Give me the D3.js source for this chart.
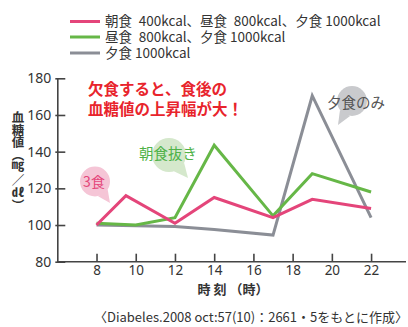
<!DOCTYPE html>
<html><head><meta charset="utf-8">
<script src="https://cdn.jsdelivr.net/npm/d3@7"></script>
<style>
body{margin:0;background:#fff;}
svg{display:block;font-family:"Noto Sans CJK JP","Noto Sans",sans-serif;}
</style></head>
<body><svg id="c" width="408" height="327"></svg>
<script>
const xTicks = [8,10,12,14,16,18,20,22];
const yTicks = [80,100,120,140,160,180];
const seriesNames = ["朝食\u2002400kcal、昼食\u2002800kcal、夕食 1000kcal","昼食\u2002800kcal、夕食 1000kcal","夕食 1000kcal"];
const seriesColors = ["#e4457a","#66b747","#8b8e96"];
const threeMealsX = [8,9.5,12,14,17,19,22];
const threeMealsY = [100,116,101,115,104,114,109];
const skipBreakfastX = [8,10,12,14,17,19,22];
const skipBreakfastY = [101,100,104,143.5,105,128,118];
const dinnerOnlyX = [8,12,14,17,19,22];
const dinnerOnlyY = [100,99.2,97.5,94.5,170.5,104];
const headline = ["欠食すると、食後の","血糖値の上昇幅が大！"];
const yTitle = "血糖値（㎎／㎗）";
const xTitle = "時 刻 （時）";
const source = "〈Diabeles.2008 oct:57(10)：2661・5をもとに作成〉";

const svg = d3.select("#c");
const x = d3.scaleLinear().domain([6,24]).range([57.3,410.3]);
const y = d3.scaleLinear().domain([80,180]).range([261.7,78.3]);
const axisColor = "#444";

// legend
seriesNames.forEach((n,i)=>{
  const ly = [21.5,37,53][i];
  svg.append("line").attr("x1",70).attr("x2",100).attr("y1",ly).attr("y2",ly)
    .attr("stroke",seriesColors[i]).attr("stroke-width",3);
  svg.append("text").attr("x",105).attr("y",ly).attr("dy","0.36em")
    .attr("font-size",13.5).attr("fill","#333").text(n);
});

// y axis
const ya = svg.append("g").attr("transform",`translate(${x(6)},0)`)
  .call(d3.axisLeft(y).tickValues(yTicks).tickSizeOuter(0).tickSizeInner(2).tickPadding(4));
ya.select(".domain").attr("stroke",axisColor).attr("stroke-width",1.6);
ya.selectAll(".tick line").attr("x1",-2).attr("x2",8).attr("stroke",axisColor).attr("stroke-width",1.6);
ya.selectAll(".tick text").attr("font-size",14).attr("fill","#333")
  .attr("font-family","'Noto Sans',sans-serif");

// x axis
const xa = svg.append("g").attr("transform",`translate(0,${y(80)})`)
  .call(d3.axisBottom(x).tickValues(xTicks).tickSizeOuter(0).tickSizeInner(0).tickPadding(4));
xa.select(".domain").remove();
xa.append("line").attr("x1",x(6)).attr("x2",406).attr("stroke",axisColor).attr("stroke-width",1.6);
xa.selectAll(".tick line").attr("y1",0).attr("y2",-8).attr("stroke",axisColor).attr("stroke-width",1.6);
xa.selectAll(".tick text").attr("font-size",13.5).attr("fill","#333")
  .attr("font-family","'Noto Sans',sans-serif");

// axis titles
svg.append("text").attr("x",18).attr("y",111)
  .style("writing-mode","vertical-rl").style("glyph-orientation-vertical","0")
  .attr("font-size",12.5).attr("font-weight",700).attr("fill","#333").text(yTitle);
svg.append("text").attr("x",233).attr("y",289.5).attr("dy","0.36em").attr("text-anchor","middle")
  .attr("font-size",13).attr("font-weight",700).attr("fill","#333").text(xTitle);
svg.append("text").attr("x",251).attr("y",317).attr("dy","0.36em").attr("text-anchor","middle")
  .attr("font-size",13).attr("fill","#333").text(source);

// bubbles
function bubble(cx,cy,r,tx,ty,fill){
  const a = Math.atan2(ty-cy,tx-cx), d=0.4;
  const g = svg.append("g");
  g.append("circle").attr("cx",cx).attr("cy",cy).attr("r",r).attr("fill",fill);
  g.append("path").attr("d",`M${cx+r*Math.cos(a-d)},${cy+r*Math.sin(a-d)}L${tx},${ty}L${cx+r*Math.cos(a+d)},${cy+r*Math.sin(a+d)}Z`).attr("fill",fill);
}
bubble(95,181.5,15,110,203,"#f5c5d6");
bubble(169,155,17,188,178,"#d5e8cc");
bubble(352,101,15,338,125,"#c9cacd");

svg.append("text").attr("x",94).attr("y",181.5).attr("dy","0.36em").attr("text-anchor","middle")
  .attr("font-size",14).attr("fill","#e4457a").text("3食");
svg.append("text").attr("x",139).attr("y",154).attr("dy","0.36em")
  .attr("font-size",14.5).attr("fill","#4fb248").text("朝食抜き");
svg.append("text").attr("x",327).attr("y",103).attr("dy","0.36em")
  .attr("font-size",14.5).attr("fill","#555").text("夕食のみ");

// lines
const line = d3.line().x(d=>x(d[0])).y(d=>y(d[1]));
const series = [
  [dinnerOnlyX,dinnerOnlyY,seriesColors[2]],
  [skipBreakfastX,skipBreakfastY,seriesColors[1]],
  [threeMealsX,threeMealsY,seriesColors[0]]
];
series.forEach(([xs,ys,c])=>{
  svg.append("path").datum(xs.map((v,i)=>[v,ys[i]])).attr("d",line)
    .attr("fill","none").attr("stroke",c).attr("stroke-width",3).attr("stroke-linejoin","miter");
});

// headline
headline.forEach((t,i)=>{
  svg.append("text").attr("x",88).attr("y",[89.5,109.5][i]).attr("dy","0.36em")
    .attr("font-size",15.5).attr("font-weight",700).attr("fill","#e8242c").text(t);
});
</script></body></html>
